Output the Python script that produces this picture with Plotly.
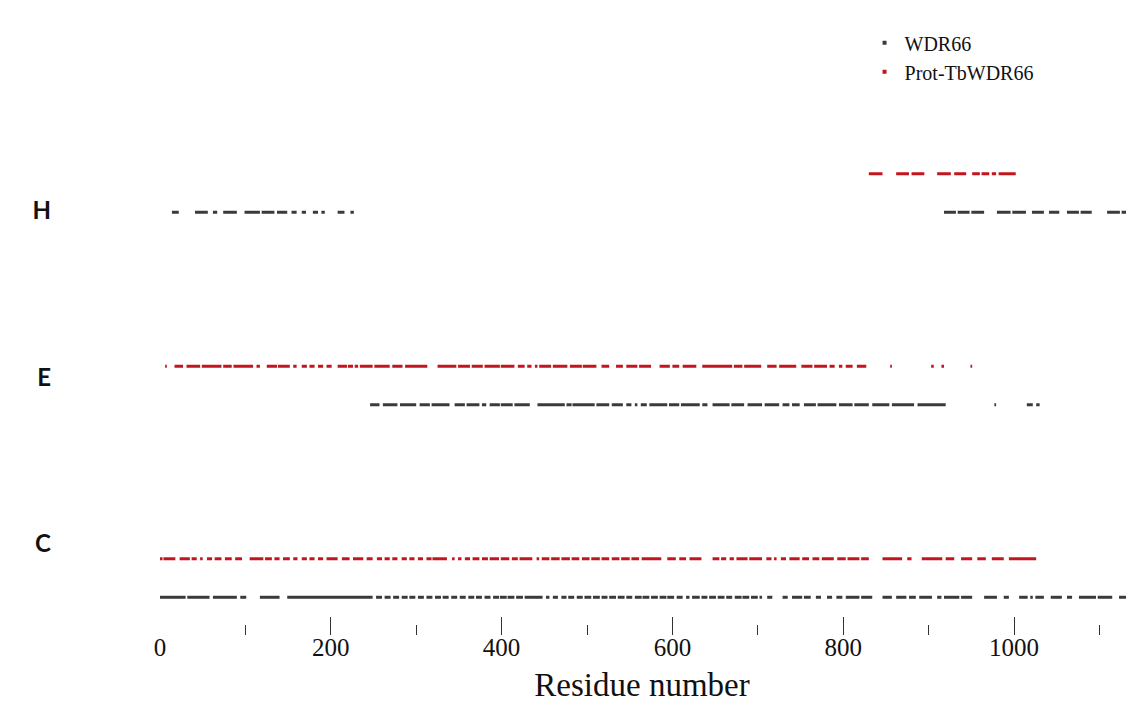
import plotly.graph_objects as go

# ---- data: residue ranges (start, end) per secondary-structure state ----
STATES = ["H", "E", "C"]
SERIES = ["WDR66", "Prot-TbWDR66"]

H_WDR66 = [(14, 22), (41, 56), (62, 67), (74, 90), (99, 117), (119, 134), (137, 149),
           (154, 160), (166, 171), (179, 185), (189, 193), (208, 216), (223, 227),
           (918, 932), (934, 948), (950, 965), (980, 996), (998, 1014), (1021, 1035),
           (1041, 1053), (1062, 1076), (1078, 1091), (1109, 1124), (1126, 1140)]

H_PROT = [(830, 846), (862, 877), (880, 895), (910, 926), (930, 944), (951, 960),
          (962, 971), (974, 979), (982, 1002)]

E_WDR66 = [(246, 257), (261, 278), (281, 300), (304, 316), (318, 339), (345, 357),
           (359, 374), (377, 382), (386, 398), (399, 413), (415, 433), (442, 474),
           (476, 482), (483, 509), (511, 526), (529, 542), (546, 552), (556, 559),
           (563, 570), (573, 594), (596, 608), (610, 632), (635, 641), (647, 667),
           (669, 684), (688, 705), (708, 725), (729, 737), (740, 749), (754, 768),
           (770, 792), (795, 811), (813, 830), (834, 854), (857, 883), (887, 920),
           (977, 979), (1015, 1022), (1026, 1030)]

E_PROT = [(6, 8), (17, 27), (31, 47), (49, 72), (74, 84), (86, 109), (113, 117),
          (125, 137), (138, 152), (156, 160), (166, 172), (175, 181), (185, 191),
          (195, 201), (208, 219), (220, 226), (228, 232), (234, 249), (251, 269),
          (272, 284), (287, 313), (325, 347), (349, 363), (365, 378), (380, 398),
          (399, 415), (419, 427), (430, 435), (439, 442), (444, 458), (460, 477),
          (480, 494), (495, 511), (517, 526), (534, 542), (546, 559), (561, 575),
          (585, 597), (600, 608), (612, 628), (635, 670), (672, 682), (684, 704),
          (711, 722), (725, 745), (751, 764), (766, 781), (784, 790), (795, 799),
          (803, 811), (816, 827), (855, 857), (903, 906), (915, 918), (949, 951)]

C_WDR66 = [(0, 30), (32, 58), (62, 90), (94, 101), (117, 140), (149, 249), (253, 260),
           (263, 270), (273, 280), (283, 290), (292, 299), (302, 309), (312, 319),
           (322, 329), (331, 338), (341, 348), (351, 358), (361, 368), (370, 377),
           (380, 387), (390, 397), (398, 406), (407, 415), (417, 425), (427, 448),
           (452, 456), (460, 466), (470, 476), (478, 485), (488, 495), (497, 505),
           (507, 515), (517, 524), (526, 534), (536, 544), (546, 553), (556, 564),
           (565, 573), (575, 583), (585, 593), (594, 602), (605, 612), (616, 620),
           (623, 632), (634, 641), (643, 651), (653, 661), (663, 670), (673, 681),
           (682, 690), (692, 700), (702, 705), (711, 717), (729, 735), (740, 752),
           (754, 762), (768, 774), (781, 787), (792, 799), (803, 819), (821, 834),
           (846, 857), (862, 874), (877, 885), (889, 904), (910, 915), (918, 936),
           (938, 951), (965, 980), (988, 994), (1006, 1016), (1019, 1022),
           (1025, 1035), (1043, 1056), (1062, 1068), (1076, 1096), (1098, 1115),
           (1123, 1140)]

C_PROT = [(0, 3), (4, 18), (23, 35), (37, 43), (47, 50), (55, 61), (64, 72), (76, 84),
          (88, 96), (105, 121), (123, 131), (134, 140), (144, 152), (156, 161),
          (166, 172), (175, 181), (185, 191), (195, 208), (213, 222), (226, 238),
          (242, 249), (254, 260), (263, 269), (272, 278), (283, 289), (292, 298),
          (302, 308), (312, 318), (319, 336), (342, 345), (349, 353), (357, 363),
          (366, 374), (377, 384), (386, 397), (399, 409), (412, 419), (421, 436),
          (441, 444), (447, 456), (458, 468), (470, 480), (482, 491), (494, 503),
          (505, 515), (517, 526), (529, 538), (540, 550), (552, 561), (564, 587),
          (594, 604), (608, 616), (620, 634), (647, 655), (657, 663), (667, 672),
          (675, 688), (690, 705), (710, 716), (719, 722), (727, 733), (737, 749),
          (752, 760), (764, 772), (775, 789), (793, 803), (805, 819), (821, 830),
          (846, 869), (875, 880), (892, 916), (920, 930), (938, 951), (957, 967),
          (974, 988), (994, 1026)]

TICK_LABELS = [0, 200, 400, 600, 800, 1000]
MAJOR_TICKS = [200, 400, 600, 800, 1000]
MINOR_TICKS = [100, 300, 500, 700, 900, 1100]

DATA = {
    ("H", "WDR66"): H_WDR66, ("H", "Prot-TbWDR66"): H_PROT,
    ("E", "WDR66"): E_WDR66, ("E", "Prot-TbWDR66"): E_PROT,
    ("C", "WDR66"): C_WDR66, ("C", "Prot-TbWDR66"): C_PROT,
}

# ---- styling / layout ----
LEVEL = {"H": 3, "E": 2, "C": 1}
ROW_OFFSET = {"WDR66": -0.1, "Prot-TbWDR66": 0.1}
COLORS = {"WDR66": "#3a3a3a", "Prot-TbWDR66": "#c4141e"}
LABEL_SHIFT = {"H": -0.09, "E": 0.04, "C": 0.18}

fig = go.Figure()
for s in STATES:
    for name in SERIES:
        xs, ys = [], []
        y = LEVEL[s] + ROW_OFFSET[name]
        for a, b in DATA[(s, name)]:
            xs += [a, b, None]
            ys += [y, y, None]
        fig.add_trace(go.Scatter(x=xs, y=ys, mode="lines",
                                 line=dict(color=COLORS[name], width=3),
                                 showlegend=False, hoverinfo="skip"))

for name in SERIES:
    fig.add_trace(go.Scatter(x=[None], y=[None], mode="markers", name=name,
                             marker=dict(color=COLORS[name], size=4, symbol="square"),
                             xaxis="x2"))

W, H = 1126, 696
xr = [-11.7, 1140.5]
fig.update_layout(
    width=W, height=H,
    margin=dict(l=142, r=0, t=0, b=69, autoexpand=False),
    plot_bgcolor="white", paper_bgcolor="white",
    showlegend=True,
    legend=dict(xref="container", yref="container", x=0.7607, y=0.978,
                xanchor="left", yanchor="top",
                font=dict(family="Liberation Serif", size=20, color="#111"),
                bgcolor="rgba(0,0,0,0)", tracegroupgap=0, itemwidth=30),
    xaxis=dict(range=xr, tickmode="array", tickvals=TICK_LABELS,
               ticktext=[str(v) for v in TICK_LABELS], ticks="",
               ticklabelstandoff=-5,
               showgrid=False, zeroline=False, showline=False,
               tickfont=dict(family="Liberation Serif", size=25, color="#111"),
               title=dict(text="Residue number", standoff=12,
                          font=dict(family="Liberation Serif", size=33, color="#111"))),
    xaxis2=dict(range=xr, overlaying="x", anchor="y", side="bottom",
                tickmode="array", tickvals=MAJOR_TICKS, ticks="inside", ticklen=18,
                tickwidth=1.4, tickcolor="#333", showticklabels=False,
                showgrid=False, zeroline=False, showline=False,
                minor=dict(tickmode="array", tickvals=MINOR_TICKS, ticks="inside",
                           ticklen=10, tickwidth=1.4, tickcolor="#333")),
    yaxis=dict(range=[0.704, 3.961], tickmode="array",
               tickvals=[LEVEL[s] + LABEL_SHIFT[s] for s in STATES], ticktext=STATES,
               ticks="", showgrid=False, zeroline=False, showline=False,
               ticklabelstandoff=98,
               tickfont=dict(family="Lato", size=24, color="#111", weight="bold")),
)
fig.write_html("out.html")
